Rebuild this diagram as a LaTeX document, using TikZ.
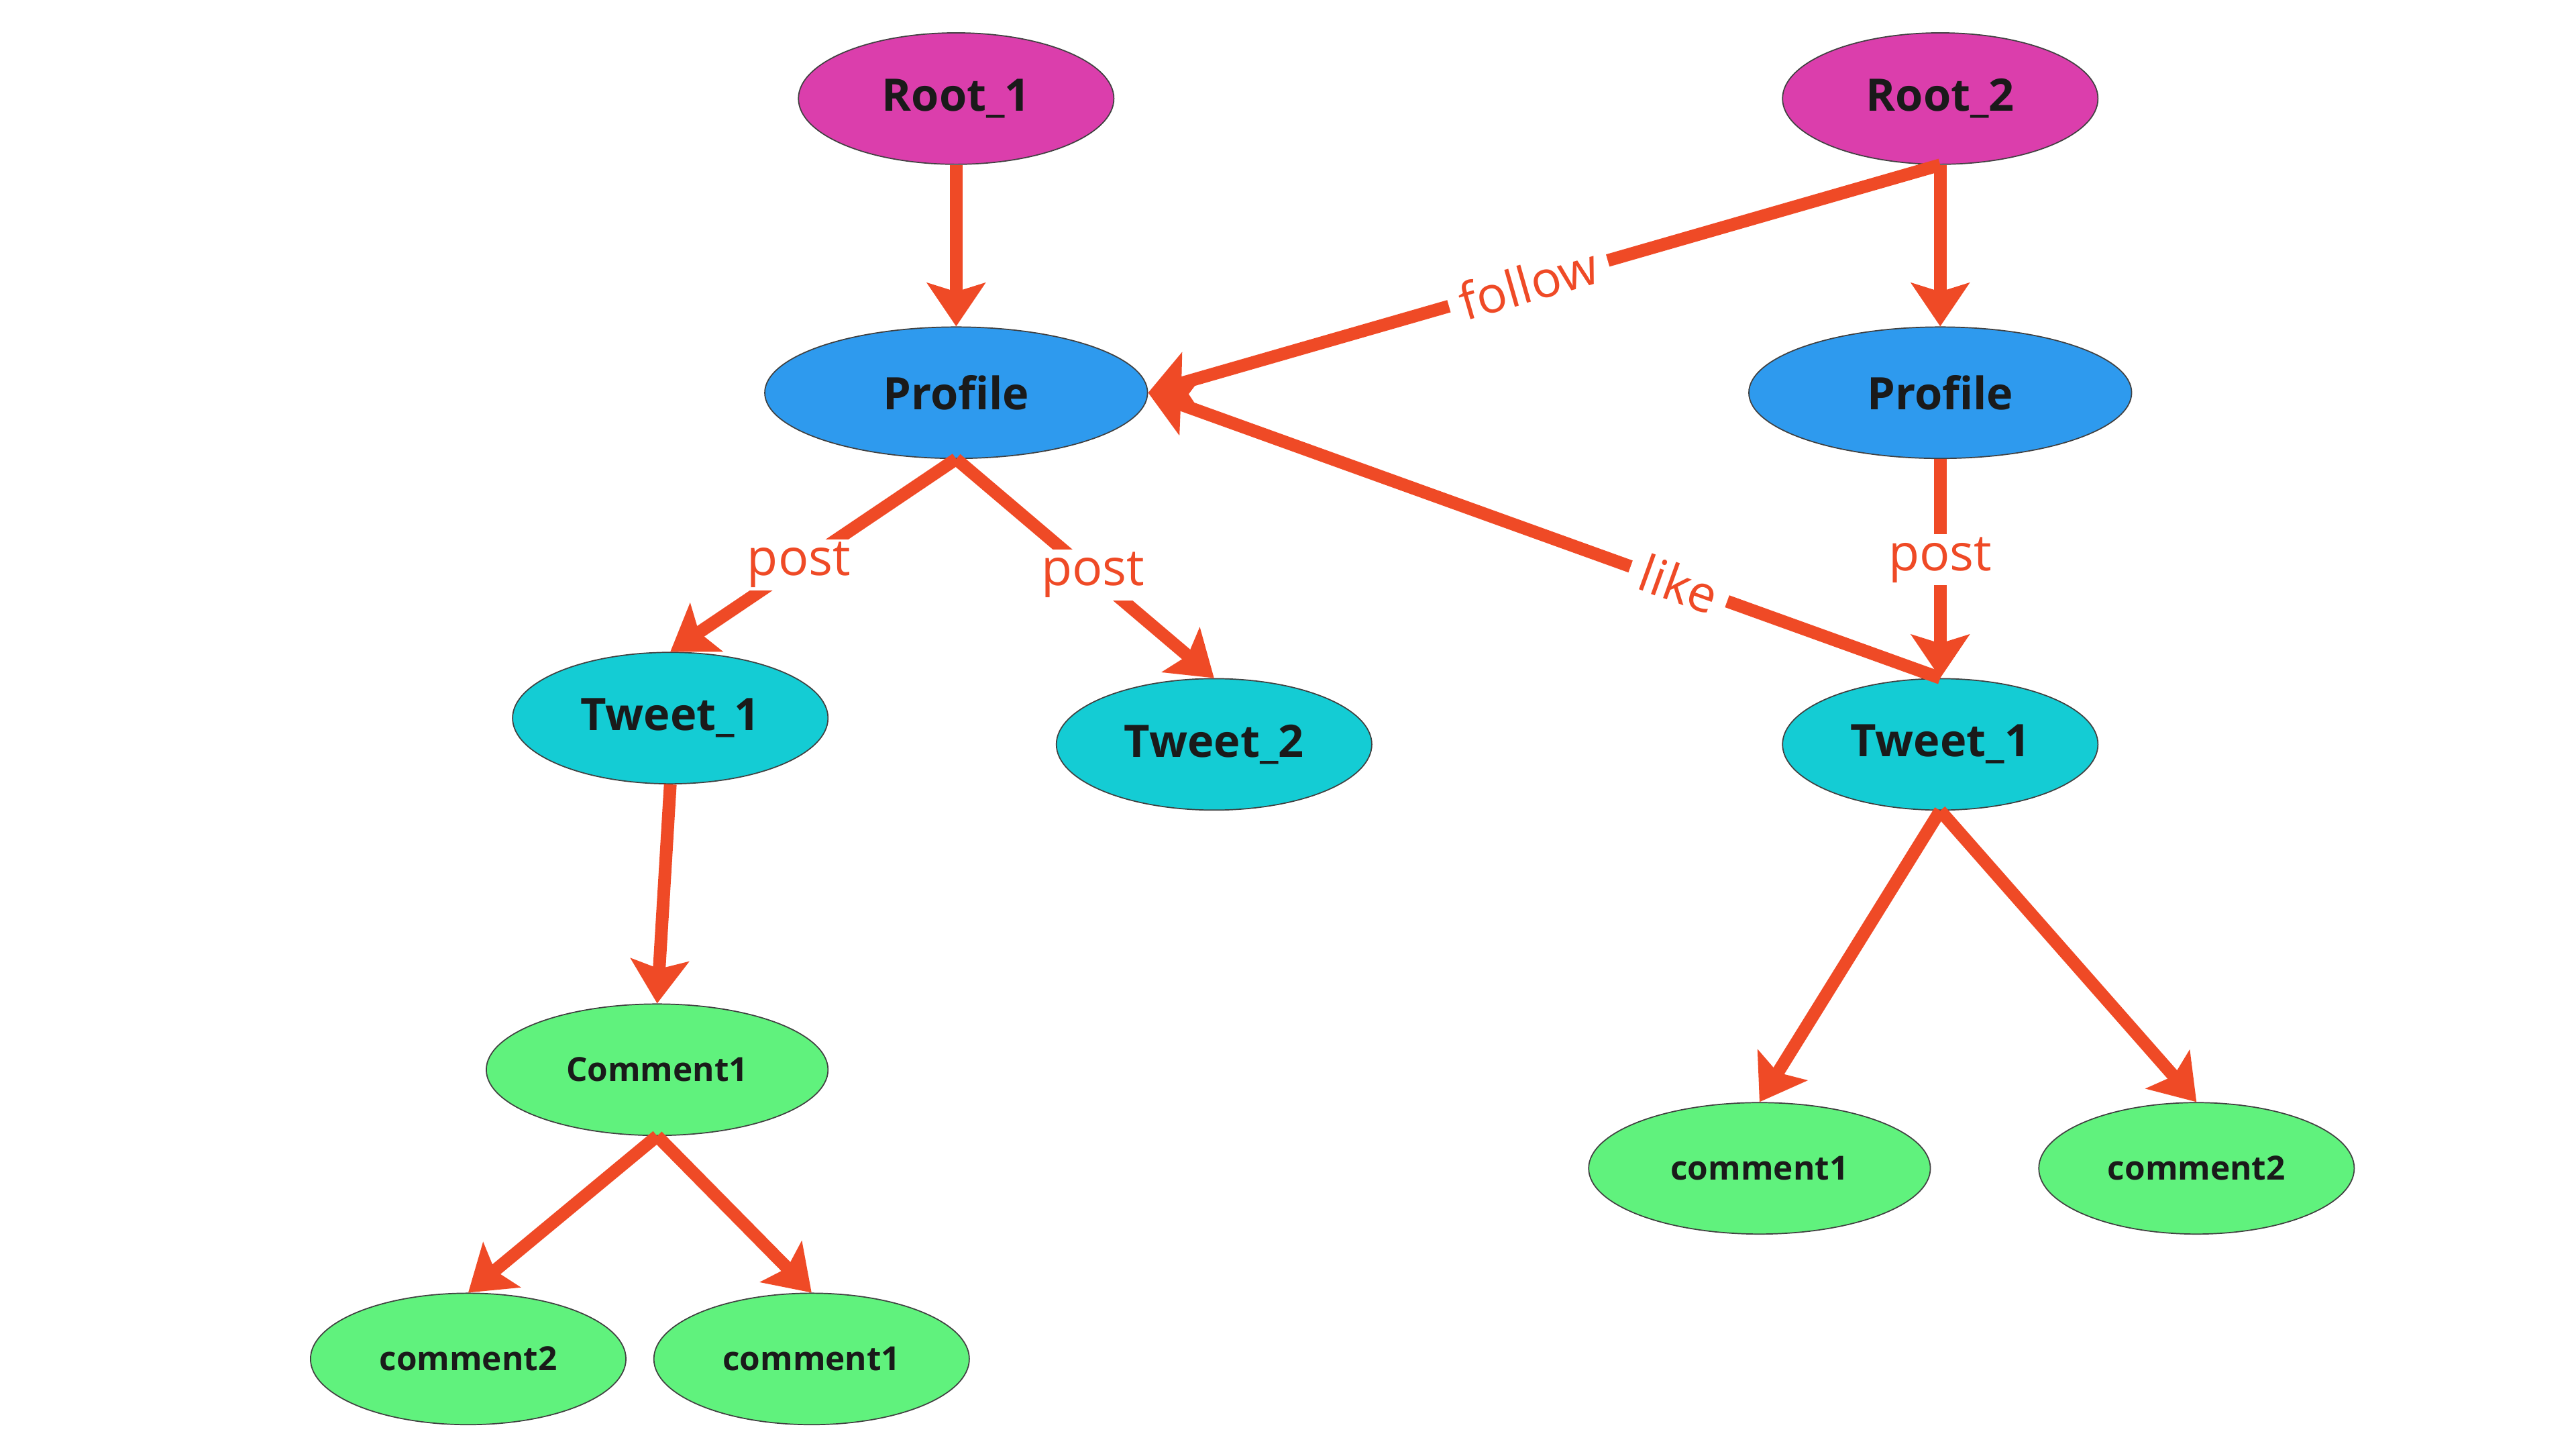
\documentclass[tikz,border=0pt]{standalone}
\usepackage{fontspec}
\setmainfont{Open Sans}
\usetikzlibrary{shapes.geometric,arrows.meta}

\definecolor{rootpink}{RGB}{219,62,172}
\definecolor{profileblue}{RGB}{46,154,238}
\definecolor{tweetcyan}{RGB}{20,204,212}
\definecolor{commentgreen}{RGB}{96,242,125}
\definecolor{linkred}{RGB}{239,74,38}
\definecolor{inkdark}{RGB}{26,26,26}

\begin{document}
\begin{tikzpicture}[
  bubble/.style={ellipse, draw=black!75, line width=0.4pt, inner sep=0pt,
    minimum height=1.6cm, text=inkdark, font=\fontsize{15.5}{18}\selectfont\bfseries},
  rootnode/.style={bubble, fill=rootpink, minimum width=3.84cm},
  profilenode/.style={bubble, fill=profileblue, minimum width=4.66cm},
  tweetnode/.style={bubble, fill=tweetcyan, minimum width=3.84cm},
  commentnode/.style={bubble, fill=commentgreen, minimum width=#1,
    font=\fontsize{11.5}{13}\selectfont\bfseries},
  commentnode/.default=3.84cm,
  link/.style={draw=linkred, line width=4.4pt,
    -{Stealth[length=15pt,width=20pt,inset=3pt]}},
  linklabel/.style={fill=white, text=linkred, inner xsep=4pt, inner ysep=1pt,
    font=\fontsize{17.5}{20}\selectfont}
]
  \useasboundingbox (0,0) rectangle (31.36,17.64);

  % Roots
  \node[rootnode] (root1) at (11.64,16.44) {Root\_1};
  \node[rootnode] (root2) at (23.62,16.44) {Root\_2};

  % Profiles
  \node[profilenode] (prof1) at (11.64,12.86) {Profile};
  \node[profilenode] (prof2) at (23.62,12.86) {Profile};

  % Tweets
  \node[tweetnode] (tw11) at (8.16,8.90) {Tweet\_1};
  \node[tweetnode] (tw12) at (14.78,8.58) {Tweet\_2};
  \node[tweetnode] (tw21) at (23.62,8.58) {Tweet\_1};

  % Comments
  \node[commentnode=4.16cm] (cm1) at (8.00,4.62) {Comment1};
  \node[commentnode] (cm12) at (5.70,1.10) {comment2};
  \node[commentnode] (cm11) at (9.88,1.10) {comment1};
  \node[commentnode=4.16cm] (cr1) at (21.42,3.42) {comment1};
  \node[commentnode] (cr2) at (26.74,3.42) {comment2};

  % Plain links
  \foreach \a/\b in {root1/prof1, root2/prof2, tw11/cm1, cm1/cm12, cm1/cm11, tw21/cr1, tw21/cr2} {
    \draw[link] (\a.south) -- (\b.north);
  }

  % Labelled links
  \draw[link] (prof1.south) -- node[linklabel, pos=0.55] {post} (tw11.north);
  \draw[link] (prof1.south) -- node[linklabel, pos=0.53] {post} (tw12.north);
  \draw[link] (prof2.south) -- node[linklabel, pos=0.46] {post} (tw21.north);
  \draw[link] (root2.south) -- node[linklabel, pos=0.52, sloped] {follow} (prof1.east);
  \draw[link] (tw21.north) -- node[linklabel, pos=0.33, sloped] {like} (prof1.east);
\end{tikzpicture}
\end{document}
